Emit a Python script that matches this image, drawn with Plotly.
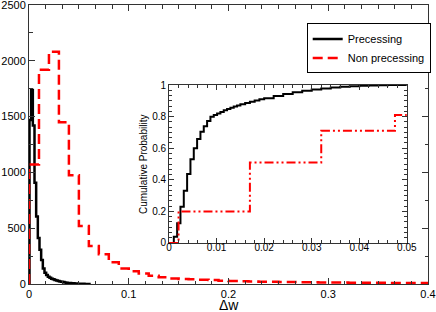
import numpy as np
import plotly.graph_objects as go

# ---------------- data ----------------
# Main histogram: precessing (narrow bins)
prec_start = 0.0005
prec_width = 0.00167
prec_counts = [1469, 1738, 1420, 908, 605, 413, 306, 216, 140, 100,
               81, 66, 55, 48, 42, 36, 31, 27, 23, 20,
               17, 14, 12, 10, 8, 7, 6, 5, 4, 3,
               3, 2, 2, 1, 1, 1]

# Main histogram: non precessing (bins of 0.01)
nonprec_start = 0.0
nonprec_width = 0.01
nonprec_counts = [1070, 1920, 2080, 1450, 975, 520, 340, 267, 195, 140,
                  115, 93, 75, 60, 50, 45, 42, 38, 35, 30,
                  28, 25, 22, 20, 20, 18, 17, 16, 15, 14,
                  14, 13, 12, 12, 11, 11, 10, 10, 9, 9]

# Inset: cumulative probability
cdf_prec_x = [0, 0.001, 0.0017, 0.0024, 0.0031, 0.0038, 0.0045, 0.0052, 0.0059, 0.0066,
              0.0073, 0.008, 0.0087, 0.0094, 0.0101, 0.0108, 0.0115, 0.0122, 0.0129, 0.0136,
              0.0143, 0.015, 0.016, 0.017, 0.018, 0.019, 0.020, 0.022, 0.024, 0.026,
              0.028, 0.030, 0.032, 0.034, 0.036, 0.038, 0.040, 0.042, 0.044, 0.046, 0.05]
cdf_prec_y = [0, 0.04, 0.125, 0.23, 0.33, 0.437, 0.53, 0.6, 0.658, 0.705,
              0.74, 0.772, 0.8, 0.81, 0.82, 0.83, 0.84, 0.848, 0.856, 0.864,
              0.871, 0.878, 0.887, 0.895, 0.903, 0.91, 0.917, 0.93, 0.943, 0.955,
              0.964, 0.972, 0.978, 0.984, 0.989, 0.993, 0.996, 0.998, 0.999, 1.0, 1.0]

cdf_nonprec_x = [0, 0.002, 0.017, 0.032, 0.0475, 0.05]
cdf_nonprec_y = [0, 0.2, 0.51, 0.71, 0.81, 0.81]

main_xticks = [0, 0.1, 0.2, 0.3, 0.4]
main_yticks = [0, 500, 1000, 1500, 2000, 2500]
inset_xticks = [0, 0.01, 0.02, 0.03, 0.04, 0.05]
inset_yticks = [0, 0.2, 0.4, 0.6, 0.8, 1]


def step_xy(start, width, counts):
    edges = start + width * np.arange(len(counts) + 1)
    x = np.concatenate([[edges[0]], edges])
    y = np.concatenate([[0], counts, [0]])
    return x, y


FONT = "Liberation Sans"
AX = "#333333"

fig = go.Figure()

px_, py_ = step_xy(prec_start, prec_width, prec_counts)
fig.add_trace(go.Scatter(x=px_, y=py_, mode="lines", line_shape="hv",
                         line=dict(color="black", width=2.5),
                         name="Precessing", xaxis="x", yaxis="y"))

nx_, ny_ = step_xy(nonprec_start, nonprec_width, nonprec_counts)
fig.add_trace(go.Scatter(x=nx_, y=ny_, mode="lines", line_shape="hv",
                         line=dict(color="#ff0000", width=2.5, dash="10px,5px"),
                         name="Non precessing", xaxis="x", yaxis="y"))

fig.add_trace(go.Scatter(x=cdf_prec_x, y=cdf_prec_y, mode="lines", line_shape="hv",
                         line=dict(color="black", width=2),
                         showlegend=False, xaxis="x2", yaxis="y2"))
fig.add_trace(go.Scatter(x=cdf_nonprec_x, y=cdf_nonprec_y, mode="lines", line_shape="hv",
                         line=dict(color="#ff0000", width=2, dash="9px,3px,2px,3px,2px,3px"),
                         showlegend=False, xaxis="x2", yaxis="y2"))

common = dict(showgrid=False, zeroline=False, showline=True, linecolor=AX, linewidth=1,
              mirror="allticks", ticks="inside", tickcolor=AX, automargin=False,
              ticklabeloverflow="allow")

fig.update_layout(
    width=436, height=312,
    margin=dict(l=29, r=8, t=5, b=28, autoexpand=False),
    paper_bgcolor="white", plot_bgcolor="white",
    font=dict(family=FONT, color="black", size=11),
    xaxis=dict(domain=[0, 1], range=[0, 0.4], tickvals=main_xticks,
               ticktext=[str(v) for v in main_xticks], ticklen=6,
               tickfont=dict(family=FONT, size=11),
               minor=dict(dtick=0.1 / 6, ticks="inside", ticklen=3.5, tickcolor=AX),
               **common),
    yaxis=dict(domain=[0, 1], range=[0, 2500], tickvals=main_yticks, ticklen=6,
               tickfont=dict(family=FONT, size=11),
               minor=dict(dtick=250, ticks="inside", ticklen=3.5, tickcolor=AX),
               **common),
    xaxis2=dict(domain=[0.351, 0.947], range=[0, 0.05], anchor="y2", tickvals=inset_xticks,
                ticktext=["0", "0.01", "0.02", "0.03", "0.04", "0.05"], ticklen=5,
                tickfont=dict(family=FONT, size=10), ticklabelstandoff=-5,
                minor=dict(dtick=0.002, ticks="inside", ticklen=3, tickcolor=AX),
                **common),
    yaxis2=dict(domain=[0.147, 0.713], range=[0, 1], anchor="x2", tickvals=inset_yticks,
                ticktext=["0", "0.2", "0.4", "0.6", "0.8", "1"], ticklen=5,
                tickfont=dict(family=FONT, size=10),
                minor=dict(dtick=0.2 / 6, ticks="inside", ticklen=3, tickcolor=AX),
                **common),
    legend=dict(x=0.696, y=0.934, xanchor="left", yanchor="top",
                bordercolor="black", borderwidth=1, bgcolor="white",
                font=dict(family=FONT, size=11), tracegroupgap=0),
    showlegend=True,
    annotations=[
        dict(text="Δw", xref="paper", yref="paper", x=0.5, y=0, yshift=-11,
             xanchor="center", yanchor="top", showarrow=False,
             font=dict(family=FONT, size=14)),
        dict(text="Cumulative Probability", xref="paper", yref="paper",
             x=0.351, y=0.43, xshift=-26, textangle=-90,
             xanchor="center", yanchor="middle", showarrow=False,
             font=dict(family=FONT, size=10)),
    ],
)

fig.write_html("out.html", config={"displayModeBar": False},
               post_script="document.body.style.margin='0';document.body.style.overflow='hidden';")
